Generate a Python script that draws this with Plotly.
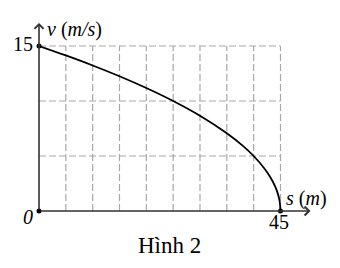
import plotly.graph_objects as go

# data
s_vals = [0, 5, 10, 15, 20, 25, 30, 35, 38, 40, 42, 43, 44, 44.5, 44.85, 45]
v_vals = [15, 14.14, 13.23, 12.25, 11.18, 10.0, 8.66, 7.07, 5.92, 5.0, 3.87, 3.16, 2.24, 1.58, 0.87, 0]
x_grid = [5, 10, 15, 20, 25, 30, 35, 40, 45]
y_grid = [5, 10, 15]
dot_s = [0, 0, 45]
dot_v = [15, 0, 0]

S_MAX, V_MAX = 45, 15
FONT = "Liberation Serif"
W, H = 340, 268
ML, MR, MT, MB = 39, 30, 24, 57
PW, PH = W - ML - MR, H - MT - MB


def px(x):
    return (x - ML) / PW


def py(y):
    return (H - MB - y) / PH


fig = go.Figure()

shapes = []
for xv in x_grid:
    shapes.append(dict(type="line", x0=xv, x1=xv, y0=0, y1=V_MAX, xref="x", yref="y",
                       line=dict(color="#a8a8a8", width=1.2, dash="7px,3px"), layer="below"))
for yv in y_grid:
    shapes.append(dict(type="line", x0=0, x1=S_MAX, y0=yv, y1=yv, xref="x", yref="y",
                       line=dict(color="#a8a8a8", width=1.2, dash="7px,3px"), layer="below"))

fig.add_trace(go.Scatter(x=s_vals, y=v_vals, mode="lines",
                         line=dict(color="black", width=1.8, shape="spline", smoothing=0.8),
                         hoverinfo="skip", cliponaxis=False))
fig.add_trace(go.Scatter(x=dot_s, y=dot_v, mode="markers",
                         marker=dict(color="black", size=5), cliponaxis=False, hoverinfo="skip"))

tf = dict(family=FONT, size=20, color="black")
annotations = [
    # axes with arrows
    dict(x=50.6, y=0, ax=0, ay=0, xref="x", yref="y", axref="x", ayref="y", text="",
         showarrow=True, arrowhead=4, arrowsize=1.1, arrowwidth=1.6, arrowcolor="#333"),
    dict(x=0, y=17.1, ax=0, ay=0, xref="x", yref="y", axref="x", ayref="y", text="",
         showarrow=True, arrowhead=4, arrowsize=1.1, arrowwidth=1.6, arrowcolor="#333"),
    dict(x=px(35), y=py(44), xref="paper", yref="paper", text="15", showarrow=False,
         xanchor="right", yanchor="middle", font=tf),
    dict(x=px(45), y=py(29), xref="paper", yref="paper", text="<i>v</i> (<i>m/s</i>)",
         showarrow=False, xanchor="left", yanchor="middle", font=tf),
    dict(x=px(35), y=py(217), xref="paper", yref="paper", text="<i>0</i>", showarrow=False,
         xanchor="right", yanchor="middle", font=tf),
    dict(x=px(279), y=py(222), xref="paper", yref="paper", text="45", showarrow=False,
         xanchor="center", yanchor="middle", font=tf),
    dict(x=px(284), y=py(198), xref="paper", yref="paper", text="<i>s</i> (<i>m</i>)",
         showarrow=False, xanchor="left", yanchor="middle", font=tf),
    dict(x=px(169), y=py(245), xref="paper", yref="paper", text="Hình 2", showarrow=False,
         xanchor="center", yanchor="middle", font=dict(family=FONT, size=23, color="black")),
]

fig.update_layout(
    width=W, height=H,
    margin=dict(l=ML, r=MR, t=MT, b=MB),
    paper_bgcolor="white", plot_bgcolor="white",
    showlegend=False,
    shapes=shapes,
    annotations=annotations,
    xaxis=dict(range=[0, 50.5], visible=False, fixedrange=True),
    yaxis=dict(range=[0, 17], visible=False, fixedrange=True),
)

fig.write_html("out.html")
